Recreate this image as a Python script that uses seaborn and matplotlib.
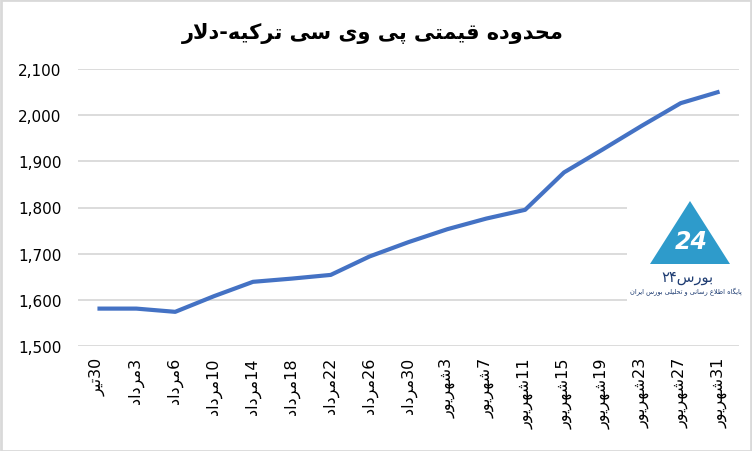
import numpy as np
import pandas as pd
import matplotlib
matplotlib.use("Agg")
import matplotlib.pyplot as plt
import seaborn as sns
from matplotlib.patches import Polygon, Rectangle
from matplotlib.ticker import StrMethodFormatter

# ---------------- data ----------------
days = ["30", "3", "6", "10", "14", "18", "22", "26", "30",
        "3", "7", "11", "15", "19", "23", "27", "31"]
months = ["تیر", "مرداد", "مرداد", "مرداد", "مرداد", "مرداد", "مرداد", "مرداد", "مرداد",
          "شهریور", "شهریور", "شهریور", "شهریور", "شهریور", "شهریور", "شهریور", "شهریور"]
prices = [1581, 1581, 1574, 1608, 1639, 1646, 1654, 1694, 1725,
          1753, 1776, 1795, 1876, 1926, 1977, 2026, 2051]
title_text = "محدوده قیمتی پی وی سی ترکیه-دلار"
brand_name = "بورس"
brand_num = "۲۴"
brand_sub = "پایگاه اطلاع رسانی و تحلیلی بورس ایران"
y_ticks = [1500, 1600, 1700, 1800, 1900, 2000, 2100]

# ------------- minimal Persian shaping (matplotlib has no bidi/shaping) -------------
FORMS = {
    "\u0627": ("\uFE8D", "\uFE8E", None, None),          # ا
    "\u0628": ("\uFE8F", "\uFE90", "\uFE91", "\uFE92"),  # ب
    "\u067E": ("\uFB56", "\uFB57", "\uFB58", "\uFB59"),  # پ
    "\u062A": ("\uFE95", "\uFE96", "\uFE97", "\uFE98"),  # ت
    "\u062D": ("\uFEA1", "\uFEA2", "\uFEA3", "\uFEA4"),  # ح
    "\u062F": ("\uFEA9", "\uFEAA", None, None),          # د
    "\u0631": ("\uFEAD", "\uFEAE", None, None),          # ر
    "\u0633": ("\uFEB1", "\uFEB2", "\uFEB3", "\uFEB4"),  # س
    "\u0634": ("\uFEB5", "\uFEB6", "\uFEB7", "\uFEB8"),  # ش
    "\u0637": ("\uFEC1", "\uFEC2", "\uFEC3", "\uFEC4"),  # ط
    "\u0639": ("\uFEC9", "\uFECA", "\uFECB", "\uFECC"),  # ع
    "\u0642": ("\uFED5", "\uFED6", "\uFED7", "\uFED8"),  # ق
    "\u06A9": ("\uFB8E", "\uFB8F", "\uFB90", "\uFB91"),  # ک
    "\u06AF": ("\uFB92", "\uFB93", "\uFB94", "\uFB95"),  # گ
    "\u0644": ("\uFEDD", "\uFEDE", "\uFEDF", "\uFEE0"),  # ل
    "\u0645": ("\uFEE1", "\uFEE2", "\uFEE3", "\uFEE4"),  # م
    "\u0646": ("\uFEE5", "\uFEE6", "\uFEE7", "\uFEE8"),  # ن
    "\u0647": ("\uFEE9", "\uFEEA", "\uFEEB", "\uFEEC"),  # ه
    "\u0648": ("\uFEED", "\uFEEE", None, None),          # و
    "\u06CC": ("\uFBFC", "\uFBFD", "\uFBFE", "\uFBFF"),  # ی
}


def dual(c):
    return c in FORMS and FORMS[c][2] is not None


def shape(s):
    out = []
    i = 0
    n = len(s)
    while i < n:
        c = s[i]
        if c not in FORMS:
            out.append(c)
            i += 1
            continue
        prev = s[i - 1] if i > 0 else ""
        jp = dual(prev)
        if c == "\u0644" and i + 1 < n and s[i + 1] == "\u0627":
            out.append("\uFEFC" if jp else "\uFEFB")
            i += 2
            continue
        nxt = s[i + 1] if i + 1 < n else ""
        jn = dual(c) and nxt in FORMS
        iso, fin, ini, med = FORMS[c]
        if jp and jn:
            out.append(med)
        elif jp:
            out.append(fin)
        elif jn:
            out.append(ini)
        else:
            out.append(iso)
        i += 1
    return "".join(out)


def rtl(s):
    return shape(s)[::-1]


labels = [rtl(m) + d for d, m in zip(days, months)]
df = pd.DataFrame({"pos": np.arange(len(prices)), "price": prices})

# ---------------- figure ----------------
sns.set_theme(style="white")
plt.rcParams["font.family"] = ["DejaVu Sans"]

fig = plt.figure(figsize=(7.52, 4.52), dpi=100)
ax = fig.add_axes([78 / 752, 1 - 347 / 452, (739 - 78) / 752, (347 - 70) / 452])

sns.lineplot(data=df, x="pos", y="price", ax=ax, color="#4472C4", linewidth=3.0,
             solid_capstyle="butt", zorder=5)

ax.set_xlim(-0.5, len(prices) - 0.5)
ax.set_ylim(1500, 2100)
ax.set_yticks(y_ticks)
ax.yaxis.set_major_formatter(StrMethodFormatter("{x:,.0f}"))
ax.set_xticks(df["pos"])
ax.set_xticklabels(labels, rotation=90, fontsize=11.5, color="#000000")
ax.tick_params(axis="y", length=0, pad=12, labelsize=11, labelcolor="#000000")
ax.tick_params(axis="x", length=0, pad=8)
ax.set_xlabel("")
ax.set_ylabel("")
ax.grid(axis="y", color="#d9d9d9", linewidth=1.3)
ax.grid(axis="x", visible=False)
for sp in ax.spines.values():
    sp.set_visible(False)

fig.text(373 / 752, 1 - 33 / 452, rtl(title_text), ha="center", va="center",
         fontsize=15, fontweight="bold", color="#000000")

# ---------------- watermark logo ----------------
def fx(px):
    return px / 752


def fy(py):
    return 1 - py / 452


fig.patches.append(Rectangle((fx(627), fy(312)), fx(745) - fx(627), fy(188) - fy(312),
                             transform=fig.transFigure, facecolor="white", edgecolor="none",
                             zorder=3))
fig.patches.append(Polygon([(fx(690), fy(202)), (fx(650), fy(265)), (fx(730), fy(265))],
                           closed=True, transform=fig.transFigure, facecolor="#2E9BCB",
                           edgecolor="none", zorder=4))
fig.text(fx(691), fy(242), "24", ha="center", va="center", fontsize=17, fontweight="bold",
         fontstyle="italic", color="white", zorder=6)
fig.text(fx(687), fy(278), brand_num + rtl(brand_name), ha="center", va="center",
         fontsize=10.5, color="#1E3C72", zorder=6)
fig.text(fx(686), fy(292), rtl(brand_sub), ha="center", va="center",
         fontsize=4.8, color="#1E3C72", zorder=6)

# figure border
fig.patches.append(Rectangle((0.001, 0.001), 0.998, 0.997, transform=fig.transFigure,
                             fill=False, edgecolor="#d9d9d9", linewidth=2, zorder=10))

fig.savefig("out.png", dpi=100)
